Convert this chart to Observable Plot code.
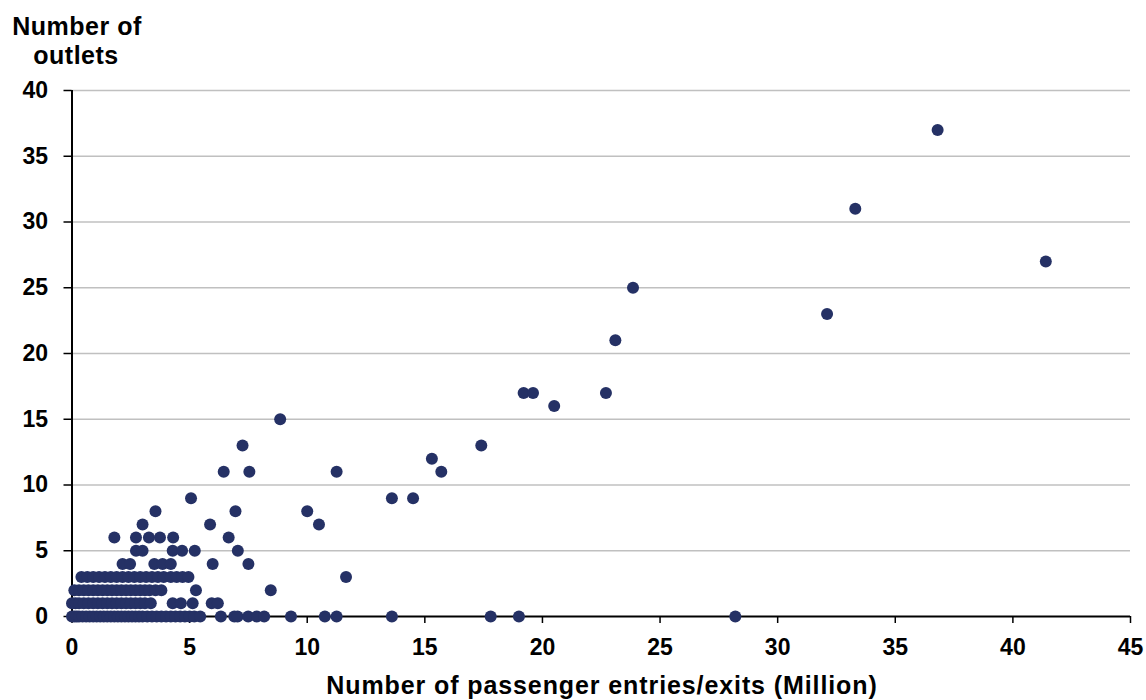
<!DOCTYPE html>
<html>
<head>
<meta charset="utf-8">
<script src="https://cdn.jsdelivr.net/npm/d3@7"></script>
<script src="https://cdn.jsdelivr.net/npm/@observablehq/plot@0.6"></script>
<style>
  html, body { margin: 0; padding: 0; background: #fff; }
  #chart svg { display: block; }
</style>
</head>
<body>
<div id="chart"></div>
<script>
// Outlet counts (y) and passenger entries/exits in millions (x), grouped by outlet count
const y0x = [0, 0.1, 0.2, 0.3, 0.45, 0.6, 0.75, 0.9, 1.05, 1.2, 1.35, 1.5, 1.65, 1.8, 1.95, 2.1, 2.25, 2.4, 2.55, 2.7, 2.85, 3.0, 3.2, 3.4, 3.6, 3.8, 4.0, 4.2, 4.4, 4.6, 4.8, 5.0, 5.2, 5.45, 6.33, 6.9, 7.04, 7.49, 7.86, 8.17, 9.31, 10.75, 11.25, 13.6, 17.8, 19.0, 28.2];
const y1x = [0, 0.15, 0.3, 0.5, 0.7, 0.9, 1.1, 1.3, 1.5, 1.7, 1.9, 2.1, 2.3, 2.5, 2.7, 2.9, 3.1, 3.35, 4.28, 4.63, 5.13, 5.94, 6.2];
const y2x = [0.1, 0.3, 0.5, 0.7, 0.9, 1.1, 1.3, 1.5, 1.7, 1.9, 2.1, 2.3, 2.5, 2.7, 2.9, 3.1, 3.3, 3.55, 3.8, 5.27, 8.45];
const y3x = [0.4, 0.65, 0.9, 1.15, 1.4, 1.65, 1.9, 2.15, 2.4, 2.65, 2.9, 3.15, 3.4, 3.65, 3.9, 4.2, 4.45, 4.7, 4.95, 11.65];
const y4x = [2.15, 2.47, 3.5, 3.85, 4.2, 5.98, 7.5];
const y5x = [2.72, 3.0, 4.28, 4.68, 5.22, 7.05];
const y6x = [1.8, 2.72, 3.27, 3.74, 4.3, 6.66];
const y7x = [3.0, 5.87, 10.5];
const y8x = [3.55, 6.95, 10.0];
const y9x = [5.06, 13.6, 14.5];
const y11x = [6.45, 7.54, 11.25, 15.7];
const y12x = [15.3];
const y13x = [7.25, 17.4];
const y15x = [8.85];
const y16x = [20.5];
const y17x = [19.2, 19.6, 22.7];
const y21x = [23.1];
const y23x = [32.1];
const y25x = [23.85];
const y27x = [41.4];
const y31x = [33.3];
const y37x = [36.8];

const groups = [
  [0, y0x], [1, y1x], [2, y2x], [3, y3x], [4, y4x], [5, y5x], [6, y6x], [7, y7x],
  [8, y8x], [9, y9x], [11, y11x], [12, y12x], [13, y13x], [15, y15x], [16, y16x],
  [17, y17x], [21, y21x], [23, y23x], [25, y25x], [27, y27x], [31, y31x], [37, y37x]
];

const xTicks = [0, 5, 10, 15, 20, 25, 30, 35, 40, 45];
const yTicks = [0, 5, 10, 15, 20, 25, 30, 35, 40];
const yTitle = ["Number of", "outlets"];
const xTitle = "Number of passenger entries/exits (Million)";

const data = groups.flatMap(([outlets, xs]) => xs.map(x => ({x, y: outlets})));

const W = 1146, H = 700;
const mL = 71.5, mR = 16, mT = 90, mB = 84;

const chart = Plot.plot({
  width: W,
  height: H,
  marginLeft: mL,
  marginRight: mR,
  marginTop: mT,
  marginBottom: mB,
  x: {domain: [0, 45]},
  y: {domain: [0, 40]},
  style: {
    fontFamily: "'Liberation Sans', Arial, sans-serif",
    fontSize: "23px",
    fontWeight: "bold",
    color: "#000",
    background: "#fff",
    overflow: "visible"
  },
  marks: [
    Plot.gridY(yTicks.filter(d => d > 0), {stroke: "#c0c0c0", strokeOpacity: 1, strokeWidth: 1.6}),
    Plot.axisY(yTicks, {tickSize: 8, tickPadding: 16, label: null, stroke: "#000", strokeWidth: 1.5, fontSize: 23, fontWeight: "bold"}),
    Plot.axisX(xTicks, {tickSize: 7, tickPadding: 15, label: null, stroke: "#000", strokeWidth: 1.5, fontSize: 23, fontWeight: "bold"}),
    Plot.ruleX([0], {stroke: "#000", strokeWidth: 2}),
    Plot.ruleY([0], {stroke: "#000", strokeWidth: 2}),
    Plot.dot(data, {x: "x", y: "y", r: 6, fill: "#253165", stroke: "none"})
  ]
});

const svg = d3.select(chart);
const t = svg.append("text")
  .attr("text-anchor", "middle")
  .attr("font-size", 25)
  .attr("font-weight", "bold")
  .attr("letter-spacing", "0.5px")
  .attr("fill", "#000");
t.append("tspan").attr("x", 77).attr("y", 35).text(yTitle[0]);
t.append("tspan").attr("x", 76).attr("y", 64).text(yTitle[1]);

svg.append("text")
  .attr("x", 602)
  .attr("y", 694)
  .attr("text-anchor", "middle")
  .attr("font-size", 25)
  .attr("font-weight", "bold")
  .attr("letter-spacing", "0.9px")
  .attr("fill", "#000")
  .text(xTitle);

document.getElementById("chart").appendChild(chart);
</script>
</body>
</html>
